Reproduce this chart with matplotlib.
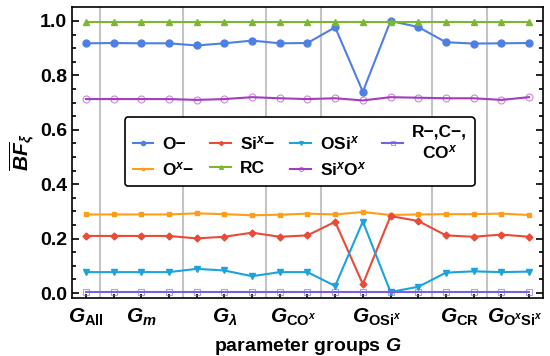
import matplotlib
matplotlib.use("Agg")
import matplotlib.pyplot as plt
import numpy as np

plt.rcParams['font.family'] = ['Liberation Sans', 'DejaVu Sans']
plt.rcParams['font.weight'] = 'bold'
plt.rcParams['axes.labelweight'] = 'bold'
plt.rcParams['mathtext.fontset'] = 'custom'
plt.rcParams['mathtext.rm'] = 'Liberation Sans:bold'
plt.rcParams['mathtext.bf'] = 'Liberation Sans:bold'
plt.rcParams['mathtext.it'] = 'Liberation Sans:bold:italic'
plt.rcParams['mathtext.sf'] = 'Liberation Sans:bold'

# data
o_minus = [0.918, 0.919, 0.918, 0.918, 0.910, 0.918, 0.928, 0.918, 0.919,
           0.977, 0.740, 1.000, 0.978, 0.922, 0.917, 0.918, 0.919]
ox_minus = [0.289, 0.289, 0.289, 0.289, 0.293, 0.290, 0.286, 0.288, 0.292,
            0.289, 0.298, 0.287, 0.289, 0.290, 0.290, 0.292, 0.287]
six_minus = [0.210, 0.210, 0.210, 0.210, 0.201, 0.207, 0.222, 0.207, 0.212,
             0.262, 0.033, 0.283, 0.265, 0.212, 0.207, 0.215, 0.207]
rc = [0.997] * 17
osix = [0.077, 0.077, 0.077, 0.077, 0.089, 0.083, 0.062, 0.077, 0.077,
        0.026, 0.263, 0.004, 0.023, 0.075, 0.080, 0.077, 0.079]
sixox = [0.713, 0.713, 0.713, 0.713, 0.710, 0.713, 0.720, 0.716, 0.713,
         0.716, 0.708, 0.720, 0.718, 0.716, 0.716, 0.710, 0.720]
rcco = [0.005] * 17

group_pos = [0, 2, 5, 7.5, 10.5, 13.5, 15.5]
group_labels = [r'$G_{\mathrm{All}}$', r'$G_m$', r'$G_\lambda$',
                r'$G_{\mathrm{CO}^x}$', r'$G_{\mathrm{OSi}^x}$',
                r'$G_{\mathrm{CR}}$', r'$G_{\mathrm{O}^x\mathrm{Si}^x}$']
separators = [0.5, 3.5, 6.5, 8.5, 12.5, 14.5]

x = np.arange(17)

fig = plt.figure(figsize=(5.5, 3.56), dpi=100)
ax = fig.add_axes([0.131, 0.163, 0.856, 0.817])

for s in separators:
    ax.axvline(s, color='#c4c4c4', lw=1.5, zorder=0)

M = '\u2212'
series = [
    (o_minus, 'O' + M, '#4f7fe6', dict(marker='o', ms=5)),
    (ox_minus, 'O$^x$' + M, '#ff9d1a', dict(marker='s', ms=3.5)),
    (six_minus, 'Si$^x$' + M, '#ea4a37', dict(marker='D', ms=3.5)),
    (rc, 'RC', '#7cb82f', dict(marker='^', ms=4.5)),
    (osix, 'OSi$^x$', '#1ba3dd', dict(marker='v', ms=4.5)),
    (sixox, 'Si$^x$O$^x$', '#a43cc0', dict(marker='o', ms=5, mfc='none', mew=0.8)),
    (rcco, 'R' + M + ',C' + M + ',\nCO$^x$', '#7a60e0', dict(marker='s', ms=4, mfc='none', mew=0.8)),
]
for vals, lab, col, kw in series:
    mk = dict(kw)
    if mk.get('mfc') == 'none':
        # the open markers have a lighter outline
        mk['mec'] = col + '99'
    ax.plot(x, vals, color=col, lw=1.5, label=lab, **mk)

ax.set_xlim(-0.5, 16.5)
ax.set_ylim(-0.018, 1.051)
ax.set_yticks([0.0, 0.2, 0.4, 0.6, 0.8, 1.0])
ax.set_yticks(np.arange(0, 1.05, 0.05), minor=True)
ax.set_yticklabels(['0.0', '0.2', '0.4', '0.6', '0.8', '1.0'])
ax.tick_params(axis='y', which='both', direction='in', right=True, labelsize=14, width=1.2)
ax.tick_params(axis='y', which='major', length=5)
ax.tick_params(axis='y', which='minor', length=3)

ax.xaxis.remove_overlapping_locs = False
ax.set_xticks(x)
ax.set_xticklabels([''] * 17)
ax.tick_params(axis='x', which='major', direction='in', length=3, width=1.2)
ax.set_xticks(group_pos, minor=True)
ax.set_xticklabels(group_labels, minor=True, fontsize=15)
ax.tick_params(axis='x', which='minor', length=0, pad=6)

for sp in ax.spines.values():
    sp.set_linewidth(1.2)

ax.set_xlabel(r'parameter groups $G$', fontsize=14, labelpad=6)
ax.set_ylabel(r'$\overline{BF}_{\xi}$', fontsize=15, labelpad=2)

leg = ax.legend(loc='upper left', bbox_to_anchor=(0.112, 0.622), ncol=4, fontsize=12.5,
                handlelength=1.2, handletextpad=0.5, columnspacing=0.9,
                labelspacing=0.5, frameon=True, fancybox=True, borderpad=0.45,
                borderaxespad=0, markerscale=0.6, framealpha=1)
leg.get_frame().set_edgecolor('black')
leg.get_frame().set_linewidth(1.2)
for t in leg.get_texts():
    t.set_multialignment('center')

fig.savefig('out.png', dpi=100)
